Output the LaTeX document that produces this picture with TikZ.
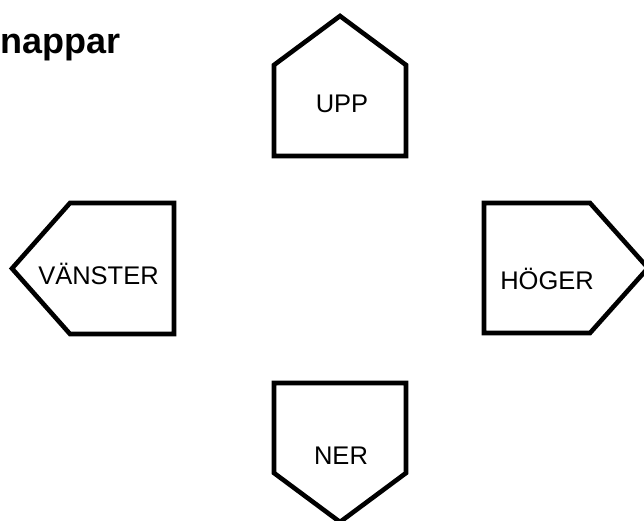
\documentclass[tikz,border=0pt]{standalone}
\usepackage{fontspec}
\setmainfont{Liberation Sans}
\begin{document}
\begin{tikzpicture}[x=1pt,y=-1pt,
  btn/.style={draw=black,line width=4.6pt,line join=miter,fill=white},
  lbl/.style={anchor=base,inner sep=0pt,font=\fontsize{25.5}{30}\selectfont},
  ttl/.style={anchor=base west,inner sep=0pt,font=\fontsize{36}{44}\selectfont\bfseries}]
\useasboundingbox (0,0) rectangle (644,521);
\clip (0,0) rectangle (644,521);
% buttons
\draw[btn] (274,156) -- (274,65) -- (340,16) -- (406,65) -- (406,156) -- cycle;
\draw[btn] (174,203) -- (70,203) -- (12,268.5) -- (70,334) -- (174,334) -- cycle;
\draw[btn] (484,203) -- (590,203) -- (648,268) -- (590,333) -- (484,333) -- cycle;
\draw[btn] (274,383) -- (406,383) -- (406,473) -- (340,522) -- (274,473) -- cycle;
% labels
\node[ttl] (title) at (0,54) {nappar};
\node[lbl] (upp) at (342,113) {UPP};
\node[lbl] (vanster) at (98.5,284) {VÄNSTER};
\node[lbl] (hoger) at (547,289) {HÖGER};
\node[lbl] (ner) at (341,464) {NER};
\end{tikzpicture}
\end{document}
